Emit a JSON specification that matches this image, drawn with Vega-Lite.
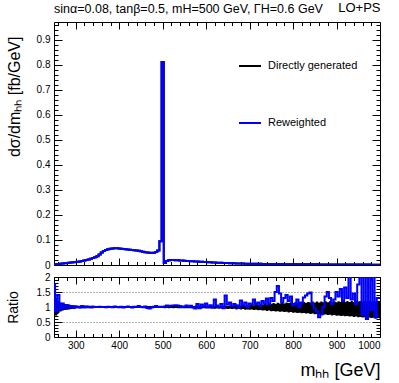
{
  "$schema": "https://vega.github.io/schema/vega-lite/v6.json",
  "background": "white",
  "padding": {"left": 5, "top": 1, "right": 5, "bottom": 5},
  "spacing": 0,
  "config": {
    "font": "Liberation Sans",
    "view": {"stroke": "black", "strokeWidth": 1},
    "axis": {"domain": false, "grid": false, "minExtent": 0, "labelFont": "Liberation Sans", "labelFontSize": 10, "labelColor": "black", "tickColor": "black", "tickWidth": 1, "titleFont": "Liberation Sans", "titleFontWeight": "normal", "titleColor": "black"},
    "legend": {"labelFont": "Liberation Sans"},
    "title": {"font": "Liberation Sans", "fontWeight": "normal", "color": "black"}
  },
  "datasets": {
    "h": [
      {"m":250,"xs":0.002,"r":1.75,"lo":0.60,"hi":1.32},
      {"m":255,"xs":0.003,"r":0.85,"lo":0.72,"hi":1.26},
      {"m":260,"xs":0.004,"r":1.40,"lo":0.80,"hi":1.20},
      {"m":265,"xs":0.005,"r":0.92,"lo":0.85,"hi":1.15},
      {"m":270,"xs":0.006,"r":1.12,"lo":0.88,"hi":1.12},
      {"m":275,"xs":0.007,"r":0.95,"lo":0.90,"hi":1.10},
      {"m":280,"xs":0.008,"r":1.06,"lo":0.91,"hi":1.09},
      {"m":285,"xs":0.009,"r":0.98,"lo":0.92,"hi":1.08},
      {"m":290,"xs":0.010,"r":1.03,"lo":0.93,"hi":1.07},
      {"m":295,"xs":0.011,"r":0.97,"lo":0.94,"hi":1.06},
      {"m":300,"xs":0.012,"r":1.02,"lo":0.95,"hi":1.05},
      {"m":305,"xs":0.013,"r":1.00,"lo":0.96,"hi":1.04},
      {"m":310,"xs":0.014,"r":0.98,"lo":0.96,"hi":1.04},
      {"m":315,"xs":0.016,"r":1.03,"lo":0.96,"hi":1.04},
      {"m":320,"xs":0.018,"r":0.99,"lo":0.96,"hi":1.04},
      {"m":325,"xs":0.020,"r":1.02,"lo":0.96,"hi":1.04},
      {"m":330,"xs":0.022,"r":1.00,"lo":0.96,"hi":1.04},
      {"m":335,"xs":0.025,"r":0.99,"lo":0.96,"hi":1.04},
      {"m":340,"xs":0.028,"r":1.01,"lo":0.96,"hi":1.04},
      {"m":345,"xs":0.031,"r":1.00,"lo":0.97,"hi":1.03},
      {"m":350,"xs":0.035,"r":1.00,"lo":0.97,"hi":1.03},
      {"m":355,"xs":0.042,"r":1.01,"lo":0.97,"hi":1.03},
      {"m":360,"xs":0.050,"r":1.00,"lo":0.97,"hi":1.03},
      {"m":365,"xs":0.056,"r":1.00,"lo":0.97,"hi":1.03},
      {"m":370,"xs":0.060,"r":0.99,"lo":0.97,"hi":1.03},
      {"m":375,"xs":0.063,"r":1.01,"lo":0.97,"hi":1.03},
      {"m":380,"xs":0.065,"r":1.00,"lo":0.97,"hi":1.03},
      {"m":385,"xs":0.066,"r":0.99,"lo":0.97,"hi":1.03},
      {"m":390,"xs":0.067,"r":1.02,"lo":0.97,"hi":1.03},
      {"m":395,"xs":0.067,"r":1.00,"lo":0.97,"hi":1.03},
      {"m":400,"xs":0.066,"r":0.99,"lo":0.97,"hi":1.03},
      {"m":405,"xs":0.065,"r":1.01,"lo":0.97,"hi":1.03},
      {"m":410,"xs":0.064,"r":0.98,"lo":0.97,"hi":1.03},
      {"m":415,"xs":0.063,"r":1.00,"lo":0.97,"hi":1.03},
      {"m":420,"xs":0.062,"r":1.02,"lo":0.97,"hi":1.03},
      {"m":425,"xs":0.061,"r":1.00,"lo":0.97,"hi":1.03},
      {"m":430,"xs":0.060,"r":0.98,"lo":0.97,"hi":1.03},
      {"m":435,"xs":0.059,"r":1.01,"lo":0.97,"hi":1.03},
      {"m":440,"xs":0.058,"r":1.00,"lo":0.97,"hi":1.03},
      {"m":445,"xs":0.057,"r":1.03,"lo":0.97,"hi":1.03},
      {"m":450,"xs":0.055,"r":1.00,"lo":0.97,"hi":1.03},
      {"m":455,"xs":0.053,"r":0.99,"lo":0.97,"hi":1.03},
      {"m":460,"xs":0.051,"r":1.02,"lo":0.97,"hi":1.03},
      {"m":465,"xs":0.050,"r":0.97,"lo":0.97,"hi":1.03},
      {"m":470,"xs":0.049,"r":0.95,"lo":0.97,"hi":1.03},
      {"m":475,"xs":0.048,"r":0.98,"lo":0.97,"hi":1.03},
      {"m":480,"xs":0.049,"r":1.01,"lo":0.97,"hi":1.03},
      {"m":485,"xs":0.052,"r":1.03,"lo":0.97,"hi":1.03},
      {"m":490,"xs":0.058,"r":1.00,"lo":0.97,"hi":1.03},
      {"m":495,"xs":0.095,"r":1.01,"lo":0.98,"hi":1.02},
      {"m":500,"xs":0.81,"r":1.00,"lo":0.98,"hi":1.02},
      {"m":505,"xs":0.008,"r":1.02,"lo":0.96,"hi":1.04},
      {"m":510,"xs":0.016,"r":1.05,"lo":0.97,"hi":1.03},
      {"m":515,"xs":0.019,"r":1.03,"lo":0.96,"hi":1.04},
      {"m":520,"xs":0.020,"r":1.04,"lo":0.97,"hi":1.03},
      {"m":525,"xs":0.020,"r":1.05,"lo":0.96,"hi":1.04},
      {"m":530,"xs":0.019,"r":1.06,"lo":0.97,"hi":1.03},
      {"m":535,"xs":0.019,"r":1.05,"lo":0.96,"hi":1.04},
      {"m":540,"xs":0.018,"r":1.03,"lo":0.96,"hi":1.03},
      {"m":545,"xs":0.018,"r":1.00,"lo":0.96,"hi":1.04},
      {"m":550,"xs":0.017,"r":1.02,"lo":0.96,"hi":1.03},
      {"m":555,"xs":0.016,"r":1.05,"lo":0.96,"hi":1.04},
      {"m":560,"xs":0.016,"r":1.01,"lo":0.96,"hi":1.03},
      {"m":565,"xs":0.015,"r":1.04,"lo":0.96,"hi":1.04},
      {"m":570,"xs":0.015,"r":0.99,"lo":0.95,"hi":1.03},
      {"m":575,"xs":0.014,"r":0.95,"lo":0.96,"hi":1.04},
      {"m":580,"xs":0.014,"r":1.10,"lo":0.95,"hi":1.03},
      {"m":585,"xs":0.013,"r":0.96,"lo":0.96,"hi":1.04},
      {"m":590,"xs":0.013,"r":1.08,"lo":0.95,"hi":1.03},
      {"m":595,"xs":0.012,"r":1.02,"lo":0.96,"hi":1.04},
      {"m":600,"xs":0.012,"r":1.12,"lo":0.95,"hi":1.03},
      {"m":605,"xs":0.011,"r":1.00,"lo":0.95,"hi":1.04},
      {"m":610,"xs":0.011,"r":1.06,"lo":0.95,"hi":1.03},
      {"m":615,"xs":0.010,"r":0.98,"lo":0.95,"hi":1.04},
      {"m":620,"xs":0.010,"r":1.25,"lo":0.94,"hi":1.03},
      {"m":625,"xs":0.009,"r":1.05,"lo":0.95,"hi":1.04},
      {"m":630,"xs":0.009,"r":1.00,"lo":0.94,"hi":1.03},
      {"m":635,"xs":0.009,"r":1.10,"lo":0.95,"hi":1.04},
      {"m":640,"xs":0.008,"r":0.96,"lo":0.94,"hi":1.03},
      {"m":645,"xs":0.008,"r":1.38,"lo":0.94,"hi":1.05},
      {"m":650,"xs":0.008,"r":1.08,"lo":0.93,"hi":1.04},
      {"m":655,"xs":0.007,"r":1.15,"lo":0.94,"hi":1.05},
      {"m":660,"xs":0.007,"r":1.02,"lo":0.93,"hi":1.04},
      {"m":665,"xs":0.007,"r":1.10,"lo":0.94,"hi":1.06},
      {"m":670,"xs":0.006,"r":1.06,"lo":0.92,"hi":1.04},
      {"m":675,"xs":0.006,"r":0.97,"lo":0.93,"hi":1.06},
      {"m":680,"xs":0.006,"r":1.22,"lo":0.92,"hi":1.05},
      {"m":685,"xs":0.006,"r":1.05,"lo":0.93,"hi":1.07},
      {"m":690,"xs":0.005,"r":1.15,"lo":0.91,"hi":1.05},
      {"m":695,"xs":0.005,"r":1.00,"lo":0.92,"hi":1.07},
      {"m":700,"xs":0.005,"r":1.12,"lo":0.91,"hi":1.06},
      {"m":705,"xs":0.005,"r":1.08,"lo":0.92,"hi":1.08},
      {"m":710,"xs":0.005,"r":1.25,"lo":0.90,"hi":1.06},
      {"m":715,"xs":0.0045,"r":1.10,"lo":0.91,"hi":1.09},
      {"m":720,"xs":0.0045,"r":1.15,"lo":0.89,"hi":1.07},
      {"m":725,"xs":0.0045,"r":1.05,"lo":0.90,"hi":1.10},
      {"m":730,"xs":0.004,"r":1.20,"lo":0.88,"hi":1.08},
      {"m":735,"xs":0.004,"r":1.12,"lo":0.89,"hi":1.11},
      {"m":740,"xs":0.004,"r":1.28,"lo":0.87,"hi":1.09},
      {"m":745,"xs":0.004,"r":1.10,"lo":0.88,"hi":1.12},
      {"m":750,"xs":0.004,"r":1.30,"lo":0.86,"hi":1.10},
      {"m":755,"xs":0.0038,"r":1.20,"lo":0.87,"hi":1.13},
      {"m":760,"xs":0.0037,"r":1.50,"lo":0.85,"hi":1.11},
      {"m":765,"xs":0.0036,"r":1.70,"lo":0.86,"hi":1.14},
      {"m":770,"xs":0.0035,"r":1.45,"lo":0.84,"hi":1.12},
      {"m":775,"xs":0.0035,"r":1.15,"lo":0.85,"hi":1.15},
      {"m":780,"xs":0.0034,"r":1.30,"lo":0.83,"hi":1.12},
      {"m":785,"xs":0.0033,"r":1.40,"lo":0.84,"hi":1.15},
      {"m":790,"xs":0.0032,"r":1.20,"lo":0.82,"hi":1.13},
      {"m":795,"xs":0.0031,"r":1.35,"lo":0.83,"hi":1.16},
      {"m":800,"xs":0.003,"r":1.05,"lo":0.81,"hi":1.13},
      {"m":805,"xs":0.003,"r":1.10,"lo":0.82,"hi":1.16},
      {"m":810,"xs":0.003,"r":1.25,"lo":0.80,"hi":1.14},
      {"m":815,"xs":0.0029,"r":1.00,"lo":0.81,"hi":1.17},
      {"m":820,"xs":0.0028,"r":1.15,"lo":0.79,"hi":1.14},
      {"m":825,"xs":0.0028,"r":1.32,"lo":0.80,"hi":1.17},
      {"m":830,"xs":0.0027,"r":1.38,"lo":0.78,"hi":1.14},
      {"m":835,"xs":0.0027,"r":1.45,"lo":0.79,"hi":1.17},
      {"m":840,"xs":0.0026,"r":1.48,"lo":0.77,"hi":1.15},
      {"m":845,"xs":0.0026,"r":1.10,"lo":0.78,"hi":1.18},
      {"m":850,"xs":0.0025,"r":0.95,"lo":0.76,"hi":1.15},
      {"m":855,"xs":0.0025,"r":0.85,"lo":0.77,"hi":1.18},
      {"m":860,"xs":0.0024,"r":0.66,"lo":0.75,"hi":1.15},
      {"m":865,"xs":0.0024,"r":0.75,"lo":0.76,"hi":1.18},
      {"m":870,"xs":0.0023,"r":1.00,"lo":0.74,"hi":1.16},
      {"m":875,"xs":0.0023,"r":1.35,"lo":0.75,"hi":1.19},
      {"m":880,"xs":0.0022,"r":1.50,"lo":0.73,"hi":1.16},
      {"m":885,"xs":0.0022,"r":1.30,"lo":0.74,"hi":1.19},
      {"m":890,"xs":0.0021,"r":1.10,"lo":0.72,"hi":1.16},
      {"m":895,"xs":0.0021,"r":1.25,"lo":0.73,"hi":1.19},
      {"m":900,"xs":0.002,"r":1.50,"lo":0.71,"hi":1.16},
      {"m":905,"xs":0.002,"r":1.35,"lo":0.72,"hi":1.19},
      {"m":910,"xs":0.002,"r":1.60,"lo":0.70,"hi":1.17},
      {"m":915,"xs":0.0019,"r":1.20,"lo":0.71,"hi":1.20},
      {"m":920,"xs":0.0019,"r":1.65,"lo":0.69,"hi":1.17},
      {"m":925,"xs":0.0018,"r":1.30,"lo":0.70,"hi":1.20},
      {"m":930,"xs":0.0018,"r":2.30,"lo":0.68,"hi":1.17},
      {"m":935,"xs":0.0018,"r":1.25,"lo":0.69,"hi":1.20},
      {"m":940,"xs":0.0017,"r":1.45,"lo":0.67,"hi":1.17},
      {"m":945,"xs":0.0017,"r":1.10,"lo":0.68,"hi":1.20},
      {"m":950,"xs":0.0016,"r":1.75,"lo":0.66,"hi":1.18},
      {"m":955,"xs":0.0016,"r":2.40,"lo":0.67,"hi":1.20},
      {"m":960,"xs":0.0016,"r":0.75,"lo":0.65,"hi":1.18},
      {"m":965,"xs":0.0015,"r":2.30,"lo":0.66,"hi":1.20},
      {"m":970,"xs":0.0015,"r":0.60,"lo":0.64,"hi":1.18},
      {"m":975,"xs":0.0015,"r":2.50,"lo":0.65,"hi":1.20},
      {"m":980,"xs":0.0014,"r":0.90,"lo":0.63,"hi":1.18},
      {"m":985,"xs":0.0014,"r":2.30,"lo":0.64,"hi":1.20},
      {"m":990,"xs":0.0014,"r":0.65,"lo":0.62,"hi":1.18},
      {"m":995,"xs":0.0013,"r":1.30,"lo":0.63,"hi":1.20},
      {"m":1000,"xs":0.0013,"r":1.30,"lo":0.62,"hi":1.18}
    ]
  },
  "vconcat": [
    {
      "width": 326,
      "height": 243,
      "data": {"name": "h"},
      "title": {"text": "sinα=0.08, tanβ=0.5, mH=500 GeV, ΓH=0.6 GeV", "anchor": "start", "frame": "group", "fontSize": 12.5, "offset": -14},
      "layer": [
        {
          "mark": {"type": "line", "interpolate": "step", "strokeWidth": 2, "clip": true},
          "encoding": {
            "x": {"field": "m", "type": "quantitative", "scale": {"domain": [250, 1000], "nice": false, "zero": false},
              "axis": {"orient": "bottom", "values": [260,280,300,320,340,360,380,400,420,440,460,480,500,520,540,560,580,600,620,640,660,680,700,720,740,760,780,800,820,840,860,880,900,920,940,960,980,1000], "labels": false, "title": null,
                "tickSize": {"condition": {"test": "datum.value % 100 == 0", "value": -7}, "value": -3.5}}},
            "y": {"field": "xs", "type": "quantitative", "scale": {"domain": [0, 0.97], "nice": false},
              "axis": {"orient": "left", "values": [0,0.02,0.04,0.06,0.08,0.1,0.12,0.14,0.16,0.18,0.2,0.22,0.24,0.26,0.28,0.3,0.32,0.34,0.36,0.38,0.4,0.42,0.44,0.46,0.48,0.5,0.52,0.54,0.56,0.58,0.6,0.62,0.64,0.66,0.68,0.7,0.72,0.74,0.76,0.78,0.8,0.82,0.84,0.86,0.88,0.9,0.92,0.94,0.96],
                "labelExpr": "abs(datum.value*10-round(datum.value*10))<0.001 ? format(datum.value,'.1~f') : ''",
                "tickSize": {"condition": {"test": "abs(datum.value*10-round(datum.value*10))<0.001", "value": -8}, "value": -4},
                "labelPadding": 12,
                "title": "dσ/dmₕₕ [fb/GeV]", "titleAnchor": "end", "titleY": 14, "titleFontSize": 16, "titlePadding": 14}},
            "color": {"datum": "Directly generated", "type": "nominal",
              "scale": {"domain": ["Directly generated", "Reweighted"], "range": ["#000000", "#0000ff"]},
              "legend": {"orient": "none", "legendX": 184, "legendY": 32, "title": null, "symbolType": "stroke", "symbolSize": 484, "symbolStrokeWidth": 2, "labelFontSize": 11, "labelColor": "black", "rowPadding": 40, "labelOffset": 6, "padding": 0}}
          }
        },
        {
          "mark": {"type": "line", "interpolate": "step", "strokeWidth": 2, "clip": true},
          "encoding": {
            "x": {"field": "m", "type": "quantitative", "scale": {"domain": [250, 1000], "nice": false, "zero": false},
              "axis": {"orient": "top", "values": [260,280,300,320,340,360,380,400,420,440,460,480,500,520,540,560,580,600,620,640,660,680,700,720,740,760,780,800,820,840,860,880,900,920,940,960,980,1000], "labels": false,
                "title": "LO+PS", "titleAnchor": "end", "titleFontSize": 13, "titlePadding": 7,
                "tickSize": {"condition": {"test": "datum.value % 100 == 0", "value": -7}, "value": -3.5}}},
            "y": {"field": "xs", "type": "quantitative", "scale": {"domain": [0, 0.97], "nice": false},
              "axis": {"orient": "right", "values": [0,0.02,0.04,0.06,0.08,0.1,0.12,0.14,0.16,0.18,0.2,0.22,0.24,0.26,0.28,0.3,0.32,0.34,0.36,0.38,0.4,0.42,0.44,0.46,0.48,0.5,0.52,0.54,0.56,0.58,0.6,0.62,0.64,0.66,0.68,0.7,0.72,0.74,0.76,0.78,0.8,0.82,0.84,0.86,0.88,0.9,0.92,0.94,0.96],
                "labels": false, "title": null,
                "tickSize": {"condition": {"test": "abs(datum.value*10-round(datum.value*10))<0.001", "value": -8}, "value": -4}}},
            "color": {"datum": "Reweighted", "type": "nominal"}
          }
        }
      ],
      "resolve": {"axis": {"x": "independent", "y": "independent"}}
    },
    {
      "width": 326,
      "height": 60,
      "data": {"name": "h"},
      "layer": [
        {
          "mark": {"type": "area", "interpolate": "step", "color": "#000000", "clip": true},
          "encoding": {
            "x": {"field": "m", "type": "quantitative", "scale": {"domain": [250, 1000], "nice": false, "zero": false},
              "axis": {"orient": "bottom", "values": [260,280,300,320,340,360,380,400,420,440,460,480,500,520,540,560,580,600,620,640,660,680,700,720,740,760,780,800,820,840,860,880,900,920,940,960,980,1000],
                "labelExpr": "datum.value % 100 == 0 ? datum.label : ''", "format": "d", "labelPadding": 10,
                "tickSize": {"condition": {"test": "datum.value % 100 == 0", "value": -7}, "value": -3.5},
                "title": "mₕₕ [GeV]", "titleAnchor": "end", "titleFontSize": 18, "titlePadding": 11}},
            "y": {"field": "lo", "type": "quantitative", "scale": {"domain": [0, 2], "nice": false},
              "axis": {"orient": "left", "values": [0,0.1,0.2,0.3,0.4,0.5,0.6,0.7,0.8,0.9,1,1.1,1.2,1.3,1.4,1.5,1.6,1.7,1.8,1.9,2],
                "labelExpr": "abs(datum.value*2-round(datum.value*2))<0.001 ? format(datum.value,'~g') : ''",
                "tickSize": {"condition": {"test": "abs(datum.value*2-round(datum.value*2))<0.001", "value": -8}, "value": -4},
                "labelPadding": 12,
                "grid": true, "gridDash": [1, 2], "gridColor": "#666666",
                "gridOpacity": {"condition": {"test": "datum.value==0.5 || datum.value==1 || datum.value==1.5", "value": 1}, "value": 0},
                "title": "Ratio", "titleFontSize": 14, "titlePadding": 16}},
            "y2": {"field": "hi"}
          }
        },
        {
          "mark": {"type": "line", "interpolate": "step", "color": "#0000ff", "strokeWidth": 2, "clip": true},
          "encoding": {
            "x": {"field": "m", "type": "quantitative", "scale": {"domain": [250, 1000], "nice": false, "zero": false},
              "axis": {"orient": "top", "values": [260,280,300,320,340,360,380,400,420,440,460,480,500,520,540,560,580,600,620,640,660,680,700,720,740,760,780,800,820,840,860,880,900,920,940,960,980,1000], "labels": false, "title": null,
                "tickSize": {"condition": {"test": "datum.value % 100 == 0", "value": -7}, "value": -3.5}}},
            "y": {"field": "r", "type": "quantitative", "scale": {"domain": [0, 2], "nice": false},
              "axis": {"orient": "right", "values": [0,0.1,0.2,0.3,0.4,0.5,0.6,0.7,0.8,0.9,1,1.1,1.2,1.3,1.4,1.5,1.6,1.7,1.8,1.9,2], "labels": false, "title": null,
                "tickSize": {"condition": {"test": "abs(datum.value*2-round(datum.value*2))<0.001", "value": -8}, "value": -4}}}
          }
        }
      ],
      "resolve": {"axis": {"x": "independent", "y": "independent"}}
    }
  ]
}
